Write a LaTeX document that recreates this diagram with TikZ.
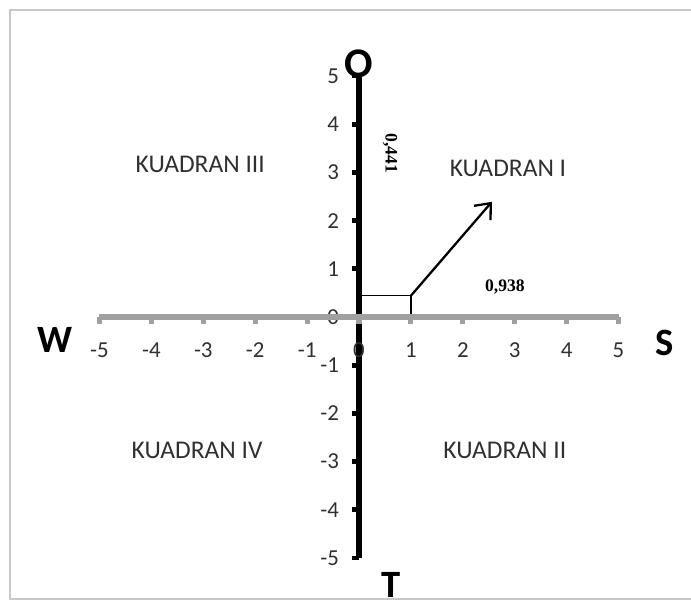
\documentclass[tikz,border=0pt]{standalone}
\usepackage{fontspec}
\setmainfont{Carlito}
\newfontfamily\valfont{Liberation Serif}
\usetikzlibrary{positioning,arrows.meta}
\definecolor{frame}{HTML}{C8C8C8}
\definecolor{axisgray}{HTML}{A0A0A0}
\definecolor{labelgray}{HTML}{303030}

\begin{document}
\begin{tikzpicture}[x=1.038cm,y=0.964cm,
  quad/.style={font=\fontsize{14.5}{16}\selectfont,text=labelgray},
  ticklabel/.style={font=\fontsize{13}{15}\selectfont,text=labelgray,inner sep=0pt},
  wind/.style={font=\fontsize{22}{24}\selectfont\bfseries},
  val/.style={font=\valfont\fontsize{10}{12}\selectfont\bfseries}]

  \useasboundingbox (-6.917,-5.996) rectangle (6.397,6.577);

  % frame
  \draw[frame,line width=0.7pt] (-6.724,-5.85) rectangle (6.7,6.369);

  % component box and vector
  \coordinate (orig) at (0,0);
  \coordinate (corner) at (1,0.441);
  \coordinate (tip) at (2.56,2.39);
  \draw[line width=0.8pt] (orig) rectangle (corner);
  \draw[-{Straight Barb[length=2.6mm,width=4.4mm]},line width=1.3pt]
    (corner) -- (tip);

  % vertical axis
  \coordinate (ybot) at (0,-5);
  \coordinate (ytop) at (0,5);
  \draw[line width=3.6pt] (ybot) -- (ytop);
  \foreach \y in {-5,...,5} {
    \fill (-0.13,\y-0.05) rectangle (0,\y+0.05);
    \node[ticklabel,anchor=east] (yl\y) at (-0.38,\y) {\y};
  }

  % horizontal axis
  \coordinate (xleft) at (-5,0);
  \coordinate (xright) at (5,0);
  \draw[axisgray,line width=3.2pt] (xleft) -- (xright);
  \foreach \x in {-5,...,5} {
    \fill[axisgray] (\x-0.05,0) rectangle (\x+0.05,-0.15);
    \node[ticklabel] (xl\x) at (\x,-0.68) {\x};
  }

  % directions
  \node[wind,font=\fontsize{24}{26}\selectfont\bfseries] (labO) at (0,5.25) {O};
  \node[wind] (labT) at (0.617,-5.56) {T};
  \node[wind] (labW) at (-5.857,-0.477) {W};
  \node[wind] (labS) at (5.896,-0.54) {S};

  % quadrants
  \node[quad] (q3) at (-3.06,3.17) {KUADRAN III};
  \node[quad] (q1) at (2.87,3.09) {KUADRAN I};
  \node[quad] (q4) at (-3.12,-2.76) {KUADRAN IV};
  \node[quad] (q2) at (2.81,-2.76) {KUADRAN II};

  % component values
  \node[val,rotate=-90] (vy) at (0.6,3.40) {0,441};
  \node[val] (vx) at (2.81,0.62) {0,938};

\end{tikzpicture}
\end{document}
